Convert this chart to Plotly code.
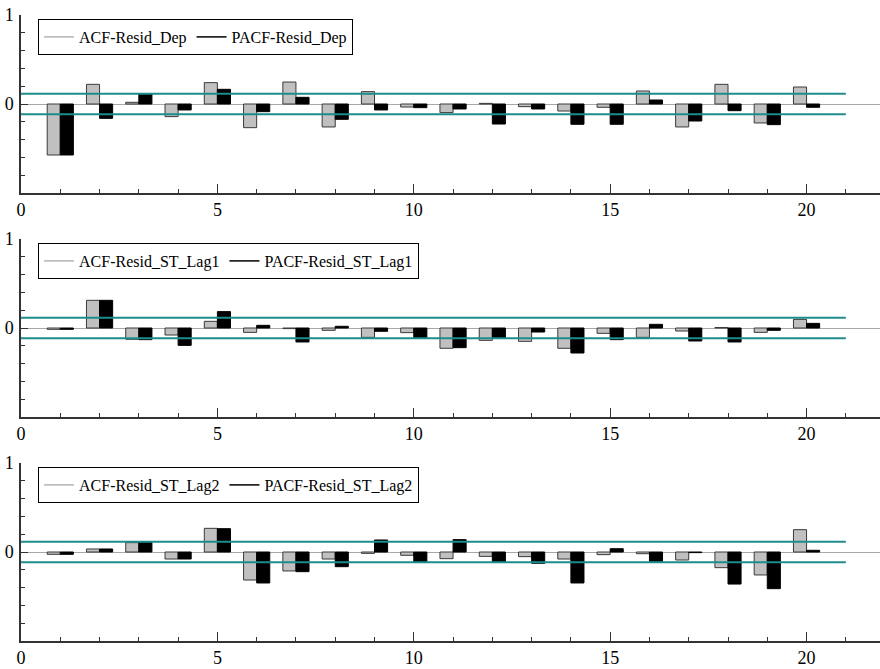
import plotly.graph_objects as go
from plotly.subplots import make_subplots

lags = list(range(1, 21))

acf_dep = [-0.573, 0.221, 0.019, -0.142, 0.240, -0.266, 0.247, -0.258, 0.139, -0.034,
           -0.097, 0.007, -0.030, -0.079, -0.037, 0.146, -0.258, 0.221, -0.213, 0.191]
pacf_dep = [-0.573, -0.161, 0.116, -0.067, 0.165, -0.086, 0.075, -0.172, -0.067, -0.041,
            -0.056, -0.225, -0.056, -0.228, -0.228, 0.045, -0.191, -0.075, -0.232, -0.037]

acf_lag1 = [-0.015, 0.311, -0.127, -0.079, 0.075, -0.049, -0.007, -0.026, -0.105, -0.052,
            -0.228, -0.139, -0.150, -0.228, -0.060, -0.105, -0.034, 0.006, -0.049, 0.097]
pacf_lag1 = [-0.015, 0.311, -0.131, -0.195, 0.184, 0.030, -0.157, 0.019, -0.037, -0.112,
             -0.221, -0.112, -0.045, -0.281, -0.131, 0.041, -0.146, -0.157, -0.026, 0.052]

acf_lag2 = [-0.026, 0.034, 0.105, -0.079, 0.266, -0.315, -0.213, -0.079, -0.015, -0.037,
            -0.075, -0.049, -0.052, -0.079, -0.030, -0.019, -0.090, -0.176, -0.258, 0.251]
pacf_lag2 = [-0.026, 0.034, 0.105, -0.079, 0.262, -0.348, -0.221, -0.165, 0.135, -0.116,
             0.139, -0.116, -0.127, -0.348, 0.037, -0.105, -0.007, -0.360, -0.412, 0.019]

series_names = [("ACF-Resid_Dep", "PACF-Resid_Dep"),
                ("ACF-Resid_ST_Lag1", "PACF-Resid_ST_Lag1"),
                ("ACF-Resid_ST_Lag2", "PACF-Resid_ST_Lag2")]
acf_all = [acf_dep, acf_lag1, acf_lag2]
pacf_all = [pacf_dep, pacf_lag1, pacf_lag2]

conf = 0.116
conf_span = [0, 21]

FONT = "Liberation Serif"
TEAL = "#1f8c8c"

fig = make_subplots(rows=3, cols=1)

W, H = 880, 669
mt, mb, ml, mr = 15, 28, 21, 0
ph = H - mt - mb
tops = [15, 239, 463]
sub_h = 178
domains = []
for t in tops:
    top = (H - mb - t) / ph
    bot = (H - mb - t - sub_h) / ph
    domains.append([max(bot, 0), min(top, 1)])

legend_keys = ["legend", "legend2", "legend3"]

for i in range(3):
    r = i + 1
    lk = legend_keys[i]
    fig.add_trace(go.Bar(x=lags, y=acf_all[i], marker=dict(color="#c0c0c0", line=dict(color="#3a3a3a", width=1)),
                         showlegend=False, legend=lk), row=r, col=1)
    fig.add_trace(go.Bar(x=lags, y=pacf_all[i], marker=dict(color="#000000", line=dict(color="#000000", width=1)),
                         showlegend=False, legend=lk), row=r, col=1)
    fig.add_trace(go.Scatter(x=conf_span, y=[conf, conf], mode="lines", line=dict(color=TEAL, width=2),
                             showlegend=False, hoverinfo="skip"), row=r, col=1)
    fig.add_trace(go.Scatter(x=conf_span, y=[-conf, -conf], mode="lines", line=dict(color=TEAL, width=2),
                             showlegend=False, hoverinfo="skip"), row=r, col=1)
    fig.add_trace(go.Scatter(x=[None], y=[None], mode="lines", line=dict(color="#b4b4b4", width=1.5),
                             name=series_names[i][0], legend=lk), row=r, col=1)
    fig.add_trace(go.Scatter(x=[None], y=[None], mode="lines", line=dict(color="#000000", width=1.5),
                             name=series_names[i][1], legend=lk), row=r, col=1)

    xa = "xaxis" if i == 0 else f"xaxis{r}"
    ya = "yaxis" if i == 0 else f"yaxis{r}"
    fig.layout[xa].update(domain=[0, 1], range=[0, 21.87], showgrid=False, zeroline=False, automargin=False,
                          showline=True, linecolor="#333333", linewidth=1.5,
                          tickvals=[0, 5, 10, 15, 20], ticks="inside", ticklen=9, tickcolor="#333333",
                          minor=dict(dtick=1, tick0=0, ticks="inside", ticklen=4, tickcolor="#333333"),
                          tickfont=dict(family=FONT, size=18, color="black"), ticklabelstandoff=0)
    fig.layout[ya].update(domain=domains[i], range=[-1, 1], showgrid=False, automargin=False,
                          zeroline=True, zerolinecolor="#a8a8a8", zerolinewidth=1,
                          showline=True, linecolor="#333333", linewidth=1.5,
                          tickvals=[0, 1], ticktext=["0", "1"], ticks="inside", ticklen=7, tickcolor="#333333",
                          minor=dict(dtick=0.2, tick0=0, ticks="inside", ticklen=4, tickcolor="#333333"),
                          tickfont=dict(family=FONT, size=18, color="black"), ticklabelstandoff=2)

    leg_top_px = tops[i] + 4
    leg = dict(x=(38 - ml) / (W - ml - mr), y=(H - mb - leg_top_px) / ph, xanchor="left", yanchor="top",
               orientation="h", bordercolor="black", borderwidth=1, bgcolor="white",
               font=dict(family=FONT, size=16, color="black"), itemwidth=30,
               tracegroupgap=0)
    fig.layout[lk] = leg

fig.update_layout(width=W, height=H, margin=dict(l=ml, r=mr, t=mt, b=mb, autoexpand=False),
                  paper_bgcolor="white", plot_bgcolor="white",
                  barmode="group", bargap=1/3, bargroupgap=0,
                  font=dict(family=FONT, size=16, color="black"))

fig.write_html("out.html", config={"displayModeBar": False},
               post_script="document.body.style.margin='0';document.body.style.overflow='hidden';")
